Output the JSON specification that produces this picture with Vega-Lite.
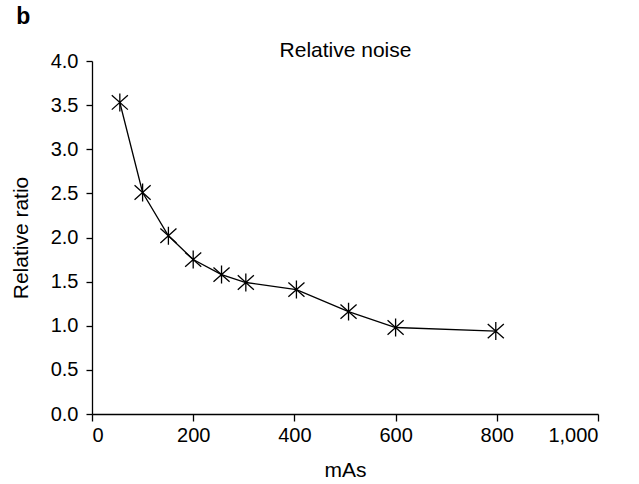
{
  "$schema": "https://vega.github.io/schema/vega-lite/v6.json",
  "autosize": "none",
  "width": 506,
  "height": 353,
  "padding": {"left": 92, "top": 61, "right": 41, "bottom": 70},
  "background": "white",
  "title": {"text": "b", "anchor": "start", "frame": "bounds", "font": "Liberation Sans", "fontSize": 23, "fontWeight": "bold", "color": "black", "dx": 6, "dy": 0, "offset": 10},
  "data": {"values": [
    {"mAs": 55, "ratio": 3.53},
    {"mAs": 100, "ratio": 2.51},
    {"mAs": 151, "ratio": 2.02},
    {"mAs": 200, "ratio": 1.75},
    {"mAs": 256, "ratio": 1.58},
    {"mAs": 304, "ratio": 1.49},
    {"mAs": 404, "ratio": 1.41},
    {"mAs": 507, "ratio": 1.16},
    {"mAs": 600, "ratio": 0.98},
    {"mAs": 798, "ratio": 0.94}
  ]},
  "config": {
    "view": {"stroke": null},
    "axis": {"grid": false, "domainColor": "black", "tickColor": "black", "labelColor": "black", "titleColor": "black", "labelFont": "Liberation Sans", "titleFont": "Liberation Sans", "labelFontSize": 20, "titleFontSize": 21, "titleFontWeight": "normal", "domainWidth": 1.3, "tickWidth": 1.3}
  },
  "resolve": {"axis": {"x": "independent"}},
  "layer": [
    {
      "mark": {"type": "line", "color": "black", "strokeWidth": 1.3},
      "encoding": {
        "x": {"field": "mAs", "type": "quantitative", "scale": {"domain": [0, 1000], "nice": false},
          "axis": {"title": "mAs", "values": [0, 200, 400, 600, 800, 1000], "format": ",d", "tickSize": 7, "labelPadding": 4, "titlePadding": 14}},
        "y": {"field": "ratio", "type": "quantitative", "scale": {"domain": [0, 4], "nice": false},
          "axis": {"title": "Relative ratio", "values": [0, 0.5, 1, 1.5, 2, 2.5, 3, 3.5, 4], "format": ".1f", "tickSize": 6, "labelPadding": 8, "titlePadding": 19}}
      }
    },
    {
      "mark": {"type": "point", "shape": "M0,-1L0,1M-0.9,-0.8L0.9,0.8M-0.9,0.8L0.9,-0.8", "filled": false, "color": "black", "strokeWidth": 1.3, "size": 320, "opacity": 1},
      "encoding": {
        "x": {"field": "mAs", "type": "quantitative",
          "axis": {"orient": "top", "title": "Relative noise", "domain": false, "ticks": false, "labels": false, "titlePadding": 1}},
        "y": {"field": "ratio", "type": "quantitative"}
      }
    }
  ]
}
